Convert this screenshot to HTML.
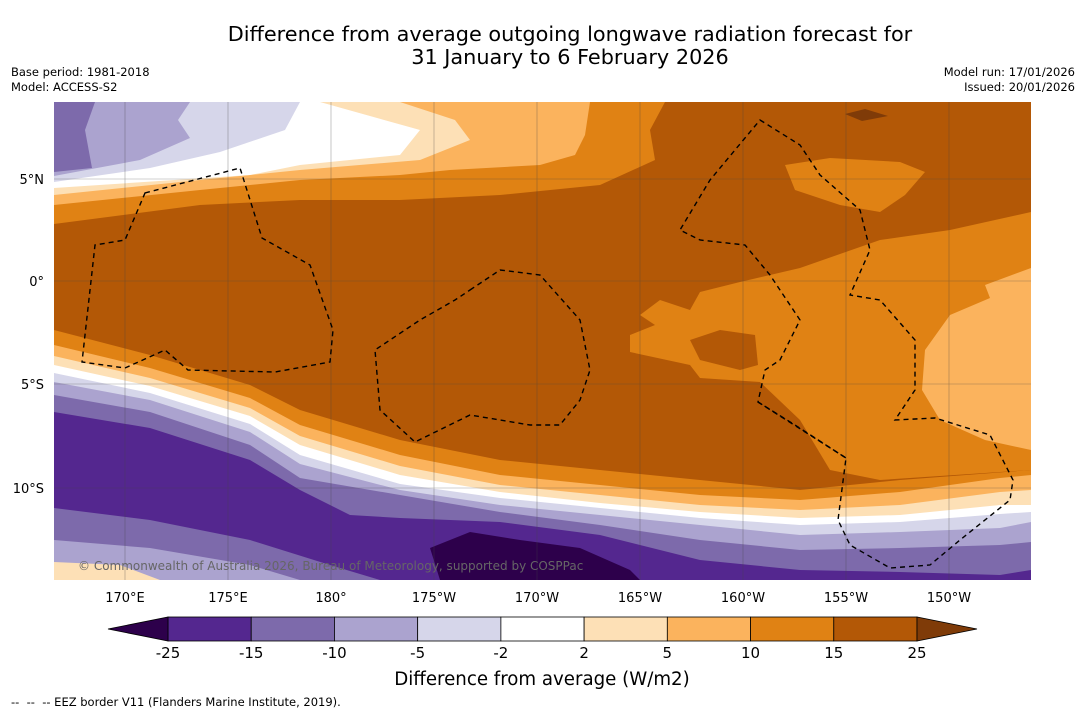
<!DOCTYPE html>
<html><head><meta charset="utf-8"><style>
body{margin:0;background:#fff;width:1085px;height:713px;overflow:hidden;font-family:"Liberation Sans","DejaVu Sans",sans-serif}
</style></head><body>
<svg width="1085" height="713" viewBox="0 0 1085 713" xmlns="http://www.w3.org/2000/svg" font-family="DejaVu Sans, Liberation Sans, sans-serif">
<text x="570" y="41" font-size="20.8" text-anchor="middle">Difference from average outgoing longwave radiation forecast for</text>
<text x="570" y="64" font-size="20.8" text-anchor="middle">31 January to 6 February 2026</text>
<text x="11" y="76" font-size="11.5">Base period: 1981-2018</text>
<text x="11" y="91" font-size="11.5">Model: ACCESS-S2</text>
<text x="1075" y="76" font-size="11.5" text-anchor="end">Model run: 17/01/2026</text>
<text x="1075" y="91" font-size="11.5" text-anchor="end">Issued: 20/01/2026</text>
<defs><clipPath id="mc"><rect x="54" y="102" width="977" height="478"/></clipPath></defs>
<g clip-path="url(#mc)">
<rect x="54" y="102" width="977" height="478" fill="#b35806"/>
<path fill="#e08214" d="M54 102 L665 102 L650 130 L655 160 L600 185 L500 195 L400 200 L300 200 L200 205 L54 224 Z"/>
<path fill="#fbb35d" d="M54 102 L590 102 L585 135 L575 155 L540 165 L450 170 L400 175 L300 180 L200 190 L54 205 Z"/>
<path fill="#fde0b6" d="M54 102 L400 102 L455 120 L470 140 L420 160 L300 170 L200 180 L54 195 Z"/>
<path fill="#ffffff" d="M54 102 L320 102 L420 130 L400 155 L300 165 L250 175 L54 188 Z"/>
<path fill="#d6d6ea" d="M54 102 L300 102 L285 130 L220 152 L150 168 L54 182 Z"/>
<path fill="#aba3cf" d="M54 102 L190 102 L178 120 L190 138 L140 160 L54 176 Z"/>
<path fill="#7d6aab" d="M54 102 L95 102 L85 130 L92 168 L54 172 Z"/>
<path fill="#e08214" d="M785 165 L830 158 L900 162 L925 172 L905 195 L880 212 L840 205 L795 190 Z"/>
<path fill="#7f3b08" d="M845 114 L865 109 L888 116 L862 121 Z"/>
<path fill="#e08214" d="M1031 212 L950 230 L880 240 L800 268 L740 282 L700 292 L690 310 L660 300 L640 315 L655 325 L630 335 L630 352 L690 365 L700 378 L760 382 L800 420 L830 470 L880 480 L1031 470 Z"/>
<path fill="#b35806" d="M690 340 L720 330 L755 335 L758 365 L740 370 L700 360 Z"/>
<path fill="#fbb35d" d="M1031 268 L985 285 L990 298 L950 315 L925 350 L922 390 L940 420 L985 440 L1031 450 Z"/>
<path fill="#e08214" d="M54 330 L150 355 L250 385 L300 410 L400 440 L500 460 L600 470 L700 480 L800 490 L900 480 L1031 470 L1031 580 L54 580 Z"/>
<path fill="#fbb35d" d="M54 345 L150 368 L250 398 L300 425 L400 455 L500 475 L600 485 L700 495 L800 500 L900 492 L1000 478 L1031 475 L1031 580 L54 580 Z"/>
<path fill="#fde0b6" d="M54 356 L150 378 L250 408 L300 436 L400 466 L500 485 L600 495 L700 505 L800 510 L900 505 L1000 492 L1031 490 L1031 580 L54 580 Z"/>
<path fill="#ffffff" d="M54 365 L150 386 L250 416 L300 445 L400 475 L500 492 L600 503 L700 512 L800 518 L900 515 L1000 505 L1031 505 L1031 580 L54 580 Z"/>
<path fill="#d6d6ea" d="M54 373 L150 393 L250 424 L300 455 L400 484 L500 498 L600 508 L700 518 L800 525 L900 522 L1000 514 L1031 512 L1031 580 L54 580 Z"/>
<path fill="#aba3cf" d="M54 382 L150 400 L250 432 L300 464 L400 490 L500 505 L600 515 L700 525 L800 535 L900 532 L1000 528 L1031 522 L1031 580 L54 580 Z"/>
<path fill="#7d6aab" d="M54 395 L150 412 L250 445 L300 478 L400 495 L500 512 L600 525 L700 540 L800 550 L900 548 L1000 545 L1031 542 L1031 580 L54 580 Z"/>
<path fill="#54278f" d="M54 412 L150 428 L250 460 L300 490 L350 515 L400 518 L500 522 L600 535 L700 560 L800 570 L900 572 L1000 575 L1031 570 L1031 580 L54 580 Z"/>
<path fill="#7d6aab" d="M54 508 L150 520 L250 540 L330 565 L380 580 L54 580 Z"/>
<path fill="#aba3cf" d="M54 540 L150 548 L250 565 L300 580 L54 580 Z"/>
<path fill="#fde0b6" d="M54 562 L120 565 L160 580 L54 580 Z"/>
<path fill="#2d004b" d="M430 548 L470 532 L520 540 L580 548 L630 570 L640 580 L440 580 Z"/>
<g stroke="#444" stroke-width="0.6" opacity="0.5">
<line x1="125" y1="102" x2="125" y2="580"/><line x1="228" y1="102" x2="228" y2="580"/><line x1="331" y1="102" x2="331" y2="580"/><line x1="434" y1="102" x2="434" y2="580"/><line x1="537" y1="102" x2="537" y2="580"/><line x1="640" y1="102" x2="640" y2="580"/><line x1="743" y1="102" x2="743" y2="580"/><line x1="846" y1="102" x2="846" y2="580"/><line x1="949" y1="102" x2="949" y2="580"/>
<line x1="54" y1="179" x2="1031" y2="179"/><line x1="54" y1="281" x2="1031" y2="281"/><line x1="54" y1="384" x2="1031" y2="384"/><line x1="54" y1="488" x2="1031" y2="488"/>
</g>
<g fill="none" stroke="#000" stroke-width="1.4" stroke-dasharray="5,4">
<path d="M145 193 L240 168 L262 238 L310 265 L333 330 L330 362 L275 372 L188 370 L165 350 L125 368 L82 362 L95 245 L125 240 Z"/>
<path d="M470 290 L500 270 L540 275 L580 320 L590 370 L580 400 L560 425 L530 425 L470 415 L415 442 L380 410 L375 350 L420 320 L455 300 Z"/>
<path d="M760 120 L800 145 L820 175 L860 210 L870 250 L850 295 L880 300 L915 340 L915 390 L895 420 L935 418 L990 435 L1013 480 L1010 500 L960 540 L930 565 L890 568 L850 545 L838 520 L846 458 L795 425 L758 402 L765 370 L780 360 L800 320 L770 275 L745 245 L700 240 L680 230 L710 180 Z"/>
<path d="M758 402 L846 458"/>
</g>
<text x="78" y="570" font-size="12" fill="#666">© Commonwealth of Australia 2026, Bureau of Meteorology, supported by COSPPac</text>
</g>
<g font-size="13" text-anchor="end">
<text x="44" y="184">5°N</text><text x="44" y="286">0°</text><text x="44" y="389">5°S</text><text x="44" y="493">10°S</text>
</g>
<g font-size="13" text-anchor="middle">
<text x="125" y="602">170°E</text><text x="228" y="602">175°E</text><text x="331" y="602">180°</text><text x="434" y="602">175°W</text><text x="537" y="602">170°W</text><text x="640" y="602">165°W</text><text x="743" y="602">160°W</text><text x="846" y="602">155°W</text><text x="949" y="602">150°W</text>
</g>
<g id="cbar"></g>
<text x="542" y="685" font-size="18.2" text-anchor="middle">Difference from average (W/m2)</text>
<text x="11" y="706" font-size="11.5" xml:space="preserve">--  --  -- EEZ border V11 (Flanders Marine Institute, 2019).</text>
</svg>
<script>
const levels = [-25, -15, -10, -5, -2, 2, 5, 10, 15, 25];
const binColors = ["#54278f", "#7d6aab", "#aba3cf", "#d6d6ea", "#ffffff", "#fde0b6", "#fbb35d", "#e08214", "#b35806"];
const extendColors = ["#2d004b", "#7f3b08"];
const NS = "http://www.w3.org/2000/svg";
const g = document.getElementById("cbar");
const x0 = 168, x1 = 917, y0 = 617, h = 24;
const w = (x1 - x0) / binColors.length;
function mk(tag, attrs){const e=document.createElementNS(NS,tag);for(const k in attrs)e.setAttribute(k,attrs[k]);g.appendChild(e);return e;}
binColors.forEach((c,i)=>{
  const r = mk("rect",{x:x0+i*w,y:y0,width:w,height:h,fill:c,stroke:"#000","stroke-width":0.8});
  
  
});
const tl = mk("polygon",{points:`${x0},${y0} ${x0},${y0+h} 108,${y0+h/2}`,fill:extendColors[0],stroke:"#000","stroke-width":0.8});


const tr = mk("polygon",{points:`${x1},${y0} ${x1},${y0+h} 977,${y0+h/2}`,fill:extendColors[1],stroke:"#000","stroke-width":0.8});


levels.forEach((v,i)=>{
  const t = mk("text",{x:x0+i*w,y:658,"font-size":15,"text-anchor":"middle"});
  t.textContent = v;
  
  
});
</script>
</body></html>
